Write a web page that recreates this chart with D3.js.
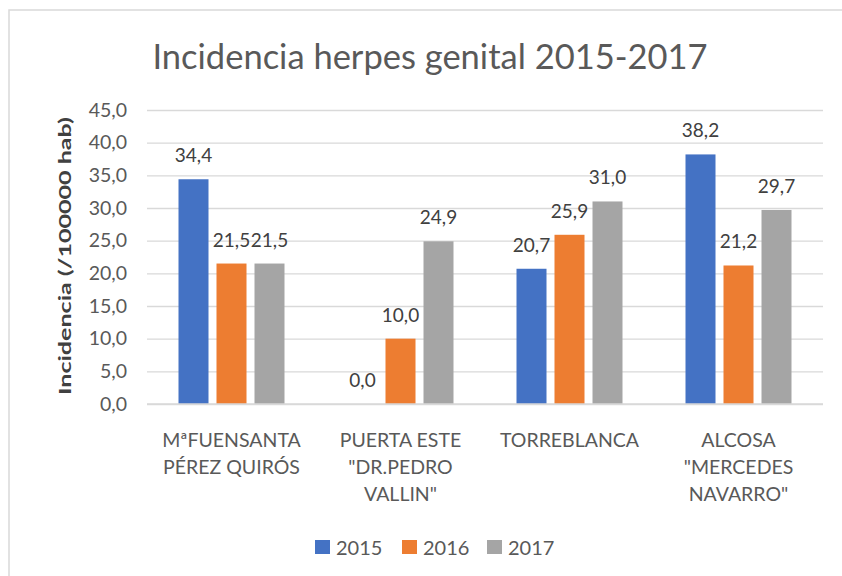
<!DOCTYPE html>
<html>
<head>
<meta charset="utf-8">
<script src="https://cdn.jsdelivr.net/npm/d3@7"></script>
<style>
  body { margin: 0; background: #fff; }
  text { font-family: Lato, "Open Sans", sans-serif; }
</style>
</head>
<body>
<div id="chart"></div>
<script>
// data
const categories = ["MªFUENSANTA PÉREZ QUIRÓS", "PUERTA ESTE \"DR.PEDRO VALLIN\"", "TORREBLANCA", "ALCOSA \"MERCEDES NAVARRO\""];
const categoryLines = [
  ["MªFUENSANTA", "PÉREZ QUIRÓS"],
  ["PUERTA ESTE", "\"DR.PEDRO", "VALLIN\""],
  ["TORREBLANCA"],
  ["ALCOSA", "\"MERCEDES", "NAVARRO\""]
];
const seriesNames = ["2015", "2016", "2017"];
const values2015 = [34.4, 0.0, 20.7, 38.2];
const values2016 = [21.5, 10.0, 25.9, 21.2];
const values2017 = [21.5, 24.9, 31.0, 29.7];
const yTicks = [0, 5, 10, 15, 20, 25, 30, 35, 40, 45];
const colors = ["#4472C4", "#ED7D31", "#A5A5A5"];

const series = [values2015, values2016, values2017];
const fmt = v => v.toFixed(1).replace(".", ",");

const W = 842, H = 576;
const margin = {top: 110, right: 19, bottom: 172, left: 147};
const width = W - margin.left - margin.right,
      height = H - margin.top - margin.bottom;

const svg = d3.select("#chart")
  .append("svg")
    .attr("width", W)
    .attr("height", H);

// chart frame
svg.append("rect")
  .attr("x", 9).attr("y", 10)
  .attr("width", 860).attr("height", 600)
  .attr("fill", "#fff")
  .attr("stroke", "#d9d9d9")
  .attr("stroke-width", 1.5);

// title
svg.append("text")
  .attr("x", 430).attr("y", 69)
  .attr("text-anchor", "middle")
  .attr("font-size", 34.5)
  .attr("fill", "#595959")
  .text("Incidencia herpes genital 2015-2017");

const g = svg.append("g")
  .attr("transform", `translate(${margin.left},${margin.top})`);

const x = d3.scaleBand()
  .domain(categories)
  .range([0, width]);

const barW = 30, barStep = 38;
const xs = d3.scaleBand()
  .domain(seriesNames)
  .range([x.bandwidth() / 2 - barStep * 1.5, x.bandwidth() / 2 + barStep * 1.5])
  .paddingInner((barStep - barW) / barStep)
  .paddingOuter((barStep - barW) / barStep / 2);

const y = d3.scaleLinear()
  .domain([0, 45])
  .range([height, 0]);

// gridlines
g.append("g")
  .call(d3.axisLeft(y).tickValues(yTicks).tickSize(-width).tickFormat(""))
  .call(a => a.select(".domain").remove())
  .call(a => a.selectAll("line").attr("stroke", "#d9d9d9").attr("stroke-width", 1.3));

// y tick labels
g.append("g")
  .call(d3.axisLeft(y).tickValues(yTicks).tickSize(0).tickPadding(20).tickFormat(fmt))
  .call(a => a.select(".domain").remove())
  .call(a => a.selectAll("text")
    .attr("font-size", 19.5)
    .attr("fill", "#595959")
    .style("font-family", "Lato, sans-serif"));

// bars
const groups = g.selectAll(".cat")
  .data(categories)
  .join("g")
    .attr("transform", d => `translate(${x(d)},0)`);

series.forEach((vals, si) => {
  groups.append("rect")
    .attr("x", xs(seriesNames[si]))
    .attr("y", (d, i) => y(vals[i]))
    .attr("width", xs.bandwidth())
    .attr("height", (d, i) => height - y(vals[i]))
    .attr("fill", colors[si]);

  groups.append("text")
    .attr("x", xs(seriesNames[si]) + xs.bandwidth() / 2)
    .attr("y", (d, i) => y(vals[i]) - 17)
    .attr("text-anchor", "middle")
    .attr("font-size", 19)
    .attr("fill", "#404040")
    .text((d, i) => fmt(vals[i]));
});

// baseline
g.append("line")
  .attr("x1", 0).attr("x2", width)
  .attr("y1", height).attr("y2", height)
  .attr("stroke", "#d9d9d9")
  .attr("stroke-width", 1.5);

// category labels
const xl = g.append("g")
  .attr("transform", `translate(0,${height})`);
categories.forEach((c, i) => {
  const t = xl.append("text")
    .attr("text-anchor", "middle")
    .attr("font-size", 19.5)
    .attr("fill", "#595959");
  categoryLines[i].forEach((line, j) => {
    t.append("tspan")
      .attr("x", x(c) + x.bandwidth() / 2)
      .attr("y", 43 + j * 27)
      .text(line);
  });
});

// y axis title (compressed as in the original)
svg.append("text")
  .attr("transform", "translate(71,256) rotate(-90)")
  .attr("text-anchor", "middle")
  .attr("font-size", 17)
  .attr("font-weight", "bold")
  .attr("fill", "#404040")
  .attr("textLength", 278)
  .attr("lengthAdjust", "spacingAndGlyphs")
  .text("Incidencia (/100000 hab)");

// legend
const legendX = [315, 402, 487];
const legend = svg.append("g");
seriesNames.forEach((s, i) => {
  legend.append("rect")
    .attr("x", legendX[i]).attr("y", 540)
    .attr("width", 15).attr("height", 14)
    .attr("fill", colors[i]);
  legend.append("text")
    .attr("x", legendX[i] + 21).attr("y", 555)
    .attr("font-size", 20)
    .attr("fill", "#595959")
    .text(s);
});
</script>
</body>
</html>
